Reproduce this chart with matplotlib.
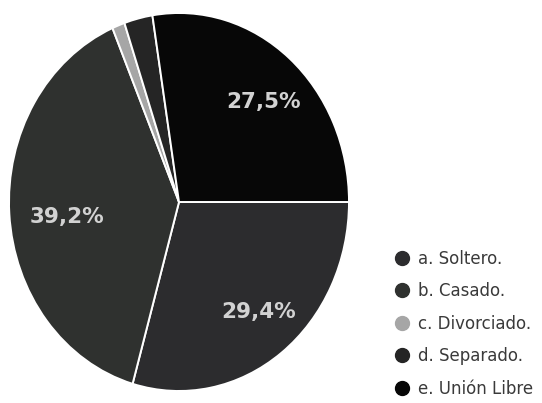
import matplotlib
matplotlib.use("Agg")
import matplotlib.pyplot as plt
from matplotlib.lines import Line2D

categories = ["a. Soltero.", "b. Casado.", "c. Divorciado.", "d. Separado.", "e. Unión Libre"]
values = [29.4, 39.2, 1.2, 2.7, 27.5]
colors = ["#2c2c2e", "#2f312f", "#a6a6a6", "#252525", "#070707"]

# layout only: label positions (axes data coords) for the shown percentages
label_pos = [(0.47, -0.58), (-0.66, -0.08), None, None, (0.50, 0.53)]

fig = plt.figure(figsize=(5.42, 4.03), dpi=100)
fig.patch.set_facecolor("white")
ax = fig.add_axes([9/542, 12/403, 340/542, 378/403])

def fmt(p):
    return ("%.1f%%" % p).replace(".", ",") if p > 5 else ""

wedges, texts, autotexts = ax.pie(
    values, colors=colors, startangle=0, counterclock=False,
    autopct=fmt, pctdistance=0.72, radius=1,
    wedgeprops=dict(edgecolor="white", linewidth=1.4),
    textprops=dict(color="#d2d2d2", fontsize=15.5, fontweight="bold",
                   family="DejaVu Sans"))
for t, pos in zip(autotexts, label_pos):
    if pos is not None:
        t.set_position(pos)
ax.set_aspect("auto")
ax.set_xlim(-1, 1)
ax.set_ylim(-1, 1)
ax.axis("off")

handles = [Line2D([0], [0], marker="o", linestyle="none", markersize=10,
                  markerfacecolor=c, markeredgecolor=c) for c in colors]
fig.legend(handles, categories, loc="upper left",
           bbox_to_anchor=(385/542, 1 - 243/403), frameon=False,
           borderaxespad=0, labelcolor="#3a3a3a", handletextpad=0.38,
           labelspacing=0.87, handlelength=1.2,
           prop=dict(family="DejaVu Sans", size=12))

fig.savefig("out.png", dpi=100, facecolor="white")
